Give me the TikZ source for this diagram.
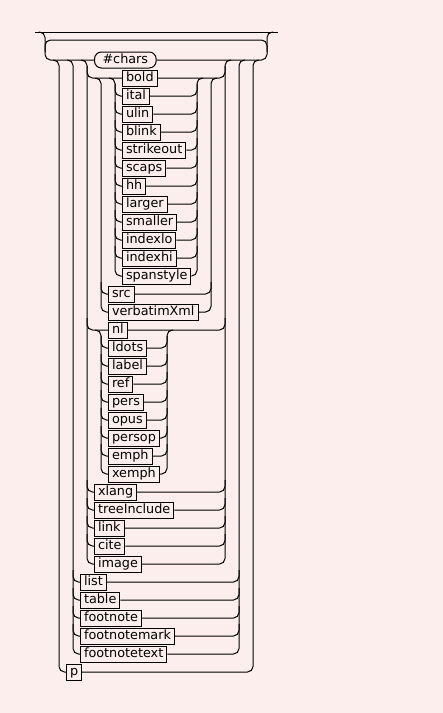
\documentclass[tikz,border=0pt]{standalone}
\usepackage{fontspec}
\setmainfont{DejaVu Sans}
\definecolor{bgpink}{RGB}{253,238,238}
\begin{document}
\begin{tikzpicture}[x=1pt,y=-1pt,line width=1pt,
	elem/.style={draw,anchor=west,font=\fontsize{12.8}{15}\selectfont,inner xsep=3.5pt,inner ysep=1.5pt,text height=9.8pt,text depth=3.2pt},
	rail/.style={rounded corners=5.5pt}]

	\fill[bgpink] (0,0) rectangle (443,713);

	\node[elem,rounded corners=7pt,inner xsep=8pt] (chars) at (94,60) {\#chars};
	\foreach \n [count=\i] in {bold,ital,ulin,blink,strikeout,scaps,hh,larger,smaller,indexlo,indexhi,spanstyle}
		\node[elem] (\n) at (122,60+18*\i) {\n};
	\node[elem] (src) at (108,294) {src};
	\node[elem] (verbatimXml) at (108,312) {verbatimXml};
	\node[elem] (nl) at (108,330) {nl};
	\foreach \n [count=\i] in {ldots,label,ref,pers,opus,persop,emph,xemph}
		\node[elem] (\n) at (108,330+18*\i) {\n};
	\foreach \n [count=\i] in {xlang,treeInclude,link,cite,image}
		\node[elem] (\n) at (94,474+18*\i) {\n};
	\foreach \n [count=\i] in {list,table,footnote,footnotemark,footnotetext}
		\node[elem] (\n) at (80,564+18*\i) {\n};
	\node[elem] (p) at (66,672) {p};

	\draw (35,32) -- (278,32);
	\draw[rail] (39,32) -| (45,60) -- (chars.west);
	\draw[rail] (chars.east) -| (267,32) -- (273,32);
	\draw[rail] (45,52) |- (156,40) -| (267,52);

	\draw[rail] (53,60) -| (59,672) -- (p.west);
	\draw[rail] (p.east) -| (253,60) -- (259,60);

	\draw[rail] (67,60) -| (73,654) -- (footnotetext.west);
	\draw[rail] (footnotetext.east) -| (239,60) -- (245,60);
	\foreach \n [count=\i] in {list,table,footnote,footnotemark}{
		\draw[rail] (73,552+18*\i) |- (\n.west);
		\draw[rail] (\n.east) -| (239,552+18*\i);
	}

	\draw[rail] (81,60) -| (87,564) -- (image.west);
	\draw[rail] (image.east) -| (225,60) -- (231,60);
	\foreach \n/\r in {bold/78,nl/330,xlang/492,treeInclude/510,link/528,cite/546}{
		\draw[rail] (87,\r-12) |- (\n.west);
		\draw[rail] (\n.east) -| (225,\r-12);
	}

	\draw[rail] (95,78) -| (101,312) -- (verbatimXml.west);
	\draw[rail] (verbatimXml.east) -| (211,78) -- (217,78);
	\draw[rail] (101,282) |- (src.west);
	\draw[rail] (src.east) -| (211,282);

	\draw[rail] (109,78) -| (115,276) -- (spanstyle.west);
	\draw[rail] (spanstyle.east) -| (197,78) -- (203,78);
	\foreach \n [count=\i from 2] in {ital,ulin,blink,strikeout,scaps,hh,larger,smaller,indexlo,indexhi}{
		\draw[rail] (115,48+18*\i) |- (\n.west);
		\draw[rail] (\n.east) -| (197,48+18*\i);
	}

	\draw[rail] (95,330) -| (101,474) -- (xemph.west);
	\draw[rail] (xemph.east) -| (167,330) -- (173,330);
	\foreach \n [count=\i] in {ldots,label,ref,pers,opus,persop,emph}{
		\draw[rail] (101,318+18*\i) |- (\n.west);
		\draw[rail] (\n.east) -| (167,318+18*\i);
	}
\end{tikzpicture}
\end{document}
